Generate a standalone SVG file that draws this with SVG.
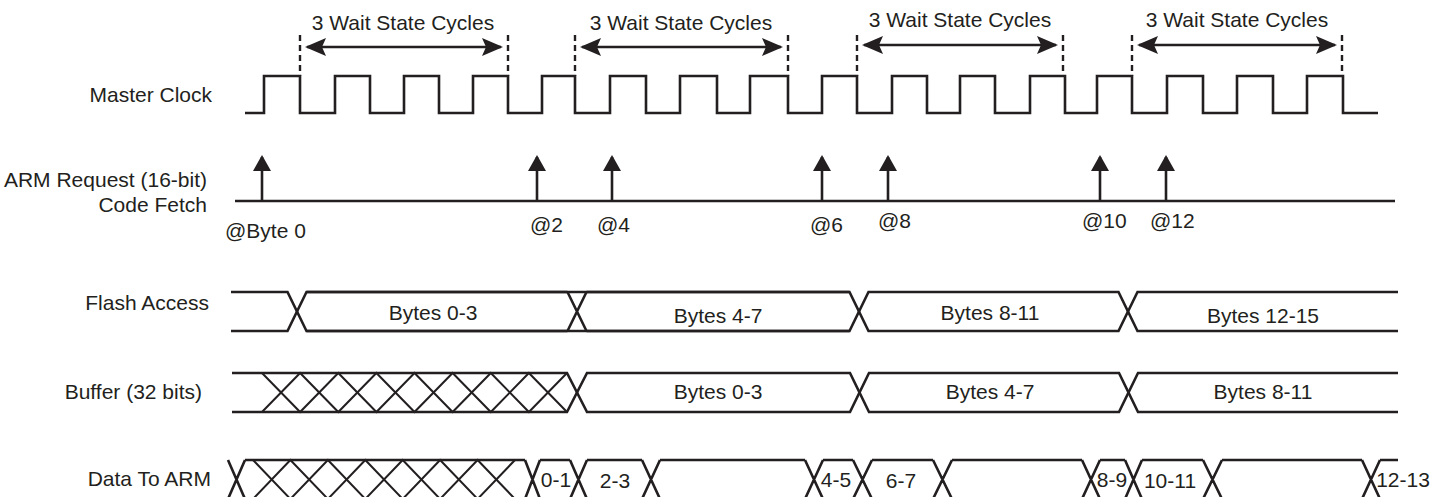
<svg xmlns="http://www.w3.org/2000/svg" width="1445" height="497" viewBox="0 0 1445 497">
<style>
text{font-family:"Liberation Sans",Arial,Helvetica,sans-serif;font-size:21px;fill:#231f20}
.lbl{text-anchor:end}
.c{text-anchor:middle}
.w{fill:none;stroke:#231f20;stroke-width:2.6;stroke-linejoin:miter}
.t{fill:none;stroke:#231f20;stroke-width:2}
.dash{fill:none;stroke:#231f20;stroke-width:2.4;stroke-dasharray:6 4}
</style>
<defs>
<marker id="ah" markerUnits="userSpaceOnUse" markerWidth="24" markerHeight="20" refX="19" refY="9" orient="auto-start-reverse" viewBox="0 0 24 20">
<path d="M0,0 L21,9 L0,18 L4,9 z" fill="#231f20"/>
</marker>
<marker id="au" markerUnits="userSpaceOnUse" markerWidth="18" markerHeight="20" refX="14" refY="9" orient="auto" viewBox="0 0 18 20">
<path d="M0,0 L16,9 L0,18 z" fill="#231f20"/>
</marker>
</defs>

<g id="labels">
<text class="lbl" x="212" y="102">Master Clock</text>
<text class="lbl" x="207" y="187">ARM Request (16-bit)</text>
<text class="lbl" x="207" y="212">Code Fetch</text>
<text class="lbl" x="209" y="310">Flash Access</text>
<text class="lbl" x="202" y="399">Buffer (32 bits)</text>
<text class="lbl" x="211" y="486">Data To ARM</text>
</g>

<g id="wait-states">
<path class="dash" d="M300,35V76 M508,35V76 M575,35V76 M788,35V76 M857,35V76 M1063,35V76 M1132,35V76 M1342,35V76"/>
<line class="w" x1="307" y1="47" x2="501" y2="47" marker-start="url(#ah)" marker-end="url(#ah)"/>
<line class="w" x1="582" y1="47" x2="781" y2="47" marker-start="url(#ah)" marker-end="url(#ah)"/>
<line class="w" x1="864" y1="45" x2="1056" y2="45" marker-start="url(#ah)" marker-end="url(#ah)"/>
<line class="w" x1="1139" y1="45" x2="1335" y2="45" marker-start="url(#ah)" marker-end="url(#ah)"/>
<text class="c" x="403" y="30">3 Wait State Cycles</text>
<text class="c" x="681" y="30">3 Wait State Cycles</text>
<text class="c" x="960" y="27">3 Wait State Cycles</text>
<text class="c" x="1237" y="27">3 Wait State Cycles</text>
</g>

<g id="master-clock">
<path class="w" d="M245,113 H264 V76 H300 V113 H335 V76 H370 V113 H404 V76 H439 V113 H473 V76 H508 V113 H542 V76 H575 V113 H610 V76 H646 V113 H680 V76 H717 V113 H750 V76 H788 V113 H822 V76 H857 V113 H892 V76 H927 V113 H960 V76 H995 V113 H1030 V76 H1065 V113 H1097 V76 H1132 V113 H1167 V76 H1203 V113 H1237 V76 H1273 V113 H1307 V76 H1343 V113 H1378"/>
</g>

<g id="arm-request">
<line class="w" x1="235" y1="201" x2="1395" y2="201"/>
<line class="w" x1="262" y1="201" x2="262" y2="157" marker-end="url(#au)"/>
<line class="w" x1="537" y1="201" x2="537" y2="157" marker-end="url(#au)"/>
<line class="w" x1="612" y1="201" x2="612" y2="157" marker-end="url(#au)"/>
<line class="w" x1="822" y1="201" x2="822" y2="157" marker-end="url(#au)"/>
<line class="w" x1="888" y1="201" x2="888" y2="157" marker-end="url(#au)"/>
<line class="w" x1="1100" y1="201" x2="1100" y2="157" marker-end="url(#au)"/>
<line class="w" x1="1166" y1="201" x2="1166" y2="157" marker-end="url(#au)"/>
<text x="225" y="238">@Byte 0</text>
<text x="530" y="232">@2</text>
<text x="597" y="232">@4</text>
<text x="810" y="232">@6</text>
<text x="878" y="228">@8</text>
<text x="1082" y="228">@10</text>
<text x="1150" y="228">@12</text>
</g>

<g id="flash-access">
<path class="w" d="M231,292 H287.5 L306.5,331 H849.5 L868.5,292 H1118.5 L1137.5,331 H1398"/>
<path class="w" d="M231,331 H287.5 L306.5,292 H849.5 L868.5,331 H1118.5 L1137.5,292 H1398"/>
<path class="w" d="M567.5,292 L586.5,331 M567.5,331 L586.5,292"/>
<path class="w" d="M306.5,292 H567.5 M306.5,331 H567.5 M586.5,292 H849.5 M586.5,331 H849.5"/>
<text class="c" x="433" y="320">Bytes 0-3</text>
<text class="c" x="718" y="323">Bytes 4-7</text>
<text class="c" x="990" y="320">Bytes 8-11</text>
<text class="c" x="1263" y="323">Bytes 12-15</text>
</g>

<g id="buffer">
<path class="w" d="M232,373 H567 L587,412 H850 L869,373 H1119 L1138,412 H1398"/>
<path class="w" d="M232,412 H567 L587,373 H850 L869,412 H1119 L1138,373 H1398"/>
<path class="t" d="M262,373 L300.1,412 L338.3,373 L376.4,412 L414.5,373 L452.6,412 L490.8,373 L528.9,412 L567,373"/>
<path class="t" d="M262,412 L300.1,373 L338.3,412 L376.4,373 L414.5,412 L452.6,373 L490.8,412 L528.9,373 L567,412"/>
<text class="c" x="718" y="399">Bytes 0-3</text>
<text class="c" x="990" y="399">Bytes 4-7</text>
<text class="c" x="1263" y="399">Bytes 8-11</text>
</g>

<g id="data-to-arm">
<path class="w" d="M228,460 L245,499 M228,499 L245,460"/>
<path class="w" d="M245,460 H525 M245,499 H525"/>
<path class="t" d="M253,460 L290.4,499 L327.9,460 L365.3,499 L402.7,460 L440.1,499 L477.6,460 L515,499"/>
<path class="t" d="M253,499 L290.4,460 L327.9,499 L365.3,460 L402.7,499 L440.1,460 L477.6,499 L515,460"/>
<path class="w" d="M525,460 L540,499 M525,499 L540,460 M540,460 H570 M540,499 H570 M570,460 L587,499 M570,499 L587,460 M587,460 H642 M587,499 H642 M642,460 L660,499 M642,499 L660,460 M660,460 H805 M660,499 H805 M805,460 L823,499 M805,499 L823,460 M823,460 H853 M823,499 H853 M853,460 L872,499 M853,499 L872,460 M872,460 H933 M872,499 H933 M933,460 L952,499 M933,499 L952,460 M952,460 H1082 M952,499 H1082 M1082,460 L1100,499 M1082,499 L1100,460 M1100,460 H1125 M1100,499 H1125 M1125,460 L1142,499 M1125,499 L1142,460 M1142,460 H1203 M1142,499 H1203 M1203,460 L1222,499 M1203,499 L1222,460 M1222,460 H1362 M1222,499 H1362 M1362,460 L1380,499 M1362,499 L1380,460 M1380,460 H1398"/>
<text class="c" x="556" y="487">0-1</text>
<text class="c" x="615" y="488">2-3</text>
<text class="c" x="836" y="487">4-5</text>
<text class="c" x="901" y="488">6-7</text>
<text class="c" x="1112" y="487">8-9</text>
<text class="c" x="1170" y="488">10-11</text>
<text class="c" x="1403" y="487">12-13</text>
</g>
</svg>
